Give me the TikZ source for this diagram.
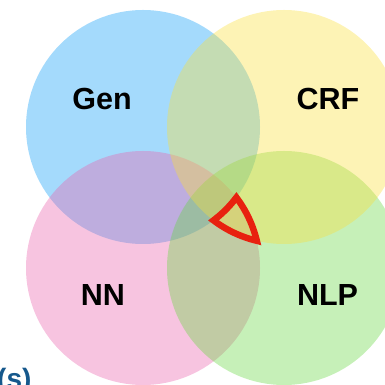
\documentclass[tikz,border=0pt]{standalone}
\usepackage{fontspec}
\setmainfont{Liberation Sans}
\usetikzlibrary{calc}
\begin{document}
\begin{tikzpicture}[x=1pt,y=1pt,
  setcircle/.style={circle,minimum size=234pt,inner sep=0pt,draw=none,fill opacity=0.37},
  setlabel/.style={font=\fontsize{30.5}{36}\selectfont\bfseries,text=black,inner sep=0pt},
  redline/.style={draw=hlred,line width=6.5pt,line join=miter,miter limit=20}]
\definecolor{genblue}{RGB}{9,155,247}
\definecolor{nnpink}{RGB}{233,96,171}
\definecolor{crfyellow}{RGB}{250,223,55}
\definecolor{nlpgreen}{RGB}{101,214,63}
\definecolor{hlred}{RGB}{232,33,15}
\definecolor{capblue}{RGB}{22,88,140}
\useasboundingbox (0,0) rectangle (385,385);
% the four sets, drawn translucent so the overlaps mix
\node[setcircle,fill=genblue]   (gen) at (143,258) {};
\node[setcircle,fill=nnpink]    (nn)  at (143,117) {};
\node[setcircle,fill=nlpgreen]  (nlp) at (284,117) {};
\node[setcircle,fill=crfyellow] (crf) at (284,258) {};
% set names
\node[setlabel] (genlbl) at (102,286) {Gen};
\node[setlabel] (crflbl) at (328,286) {CRF};
\node[setlabel] (nnlbl)  at (103,89.5) {NN};
\node[setlabel] (nlplbl) at (327.5,89.5) {NLP};
% highlighted region: inside CRF, NN and NLP but outside Gen;
% the outline starts and ends inside the Gen arc, overlapping a little,
% so that all three corners are proper mitred joins
\coordinate (gstart) at ($(gen.center)+(-45:117)$);
\draw[redline] (gstart)
  arc[start angle=-45, end angle=-37.05, radius=117]
  arc[start angle=37.05, end angle=13.447, radius=117]
  arc[start angle=256.553, end angle=232.95, radius=117]
  arc[start angle=-52.95, end angle=-41, radius=117];
% caption fragment at the lower edge
\node[anchor=base west,inner sep=0pt,text=capblue,font=\fontsize{28}{34}\selectfont\bfseries] (cap) at (-3,-4) {(s)};
\end{tikzpicture}
\end{document}
